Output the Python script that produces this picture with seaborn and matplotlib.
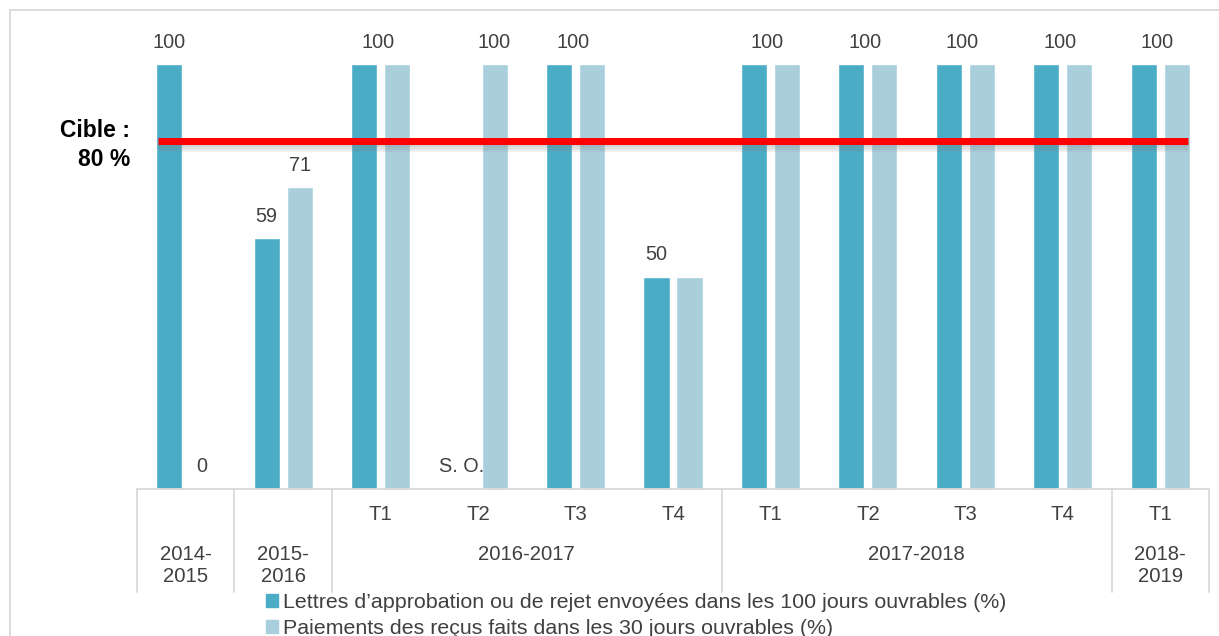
import numpy as np
import pandas as pd
import seaborn as sns
import matplotlib.pyplot as plt
import matplotlib.patheffects as pe
from matplotlib.patches import Patch
from matplotlib.lines import Line2D

# data
categories = ["2014-2015", "2015-2016", "16-T1", "16-T2", "16-T3", "16-T4",
              "17-T1", "17-T2", "17-T3", "17-T4", "18-T1"]
quarters = ["", "", "T1", "T2", "T3", "T4", "T1", "T2", "T3", "T4", "T1"]
years = ["2014-\n2015", "2015-\n2016", "2016-2017", "2017-2018", "2018-\n2019"]
year_spans = [(0, 0), (1, 1), (2, 5), (6, 9), (10, 10)]

lettres = [100, 59, 100, np.nan, 100, 50, 100, 100, 100, 100, 100]
paiements = [0, 71, 100, 100, 100, 50, 100, 100, 100, 100, 100]

serie_a = "Lettres d\u2019approbation ou de rejet envoyées dans les 100 jours ouvrables (%)"
serie_b = "Paiements des reçus faits dans les 30 jours ouvrables (%)"

# (text, category, which bar: L = first series, R = second, C = shared)
value_labels = [("100", 0, "L"), ("0", 0, "R"), ("59", 1, "L"), ("71", 1, "R"),
                ("100", 2, "C"), ("S. O.", 3, "L"), ("100", 3, "R"), ("100", 4, "C"),
                ("50", 5, "L"), ("100", 6, "C"), ("100", 7, "C"), ("100", 8, "C"),
                ("100", 9, "C"), ("100", 10, "C")]

cible_label = "Cible :\n80 %"
cible_drawn = 81.8  # where the red line sits in the picture

dark = "#4BACC6"
light = "#A9CFDD"
txt = "#404040"
grid = "#D9D9D9"

df = pd.DataFrame({
    "cat": categories * 2,
    "val": lettres + paiements,
    "serie": [serie_a] * len(categories) + [serie_b] * len(categories),
})

sns.set_style("white")
plt.rcParams["font.family"] = ["Liberation Sans", "DejaVu Sans"]

W, H = 1219, 636
fig = plt.figure(figsize=(W / 100, H / 100), dpi=100)
ax_h = 467.5
ax = fig.add_axes([137 / W, (H - 489) / H, 1072 / W, ax_h / H])

sns.barplot(data=df, x="cat", y="val", hue="serie", order=categories,
            palette=[dark, light], width=0.677, gap=0.21, ax=ax, legend=False,
            saturation=1)

ax.set_xlim(-0.5, 10.5)
ax.set_ylim(0, 110)
ax.set_xlabel("")
ax.set_ylabel("")
ax.set_xticks([])
ax.set_yticks([])
for s in ["top", "left", "right"]:
    ax.spines[s].set_visible(False)
ax.spines["bottom"].set_color(grid)
ax.spines["bottom"].set_linewidth(1.3)

px = 72 / 100  # pixels to points

# value labels
series_vals = {"L": lettres, "R": paiements}
offs = {"L": -0.169, "R": 0.169, "C": -0.03}
for text, i, side in value_labels:
    if side == "C":
        v = lettres[i]
    else:
        v = series_vals[side][i]
    if np.isnan(v):
        v = 0
    ax.annotate(text, xy=(i + offs[side], v), xytext=(0, 22 * px),
                textcoords="offset points", ha="center", va="center",
                fontsize=14.3, color=txt, annotation_clip=False)

# target line with a soft shadow under it
shadow = [pe.SimpleLineShadow(offset=(0, -k), shadow_color="gray", alpha=0.12)
          for k in (1.5, 3, 4.5)]
ax.plot([-0.285, 10.285], [cible_drawn, cible_drawn], color="#FF0000", lw=7 * px,
        solid_capstyle="butt", clip_on=False, zorder=5,
        path_effects=shadow + [pe.Normal()])
ax.annotate(cible_label, xy=(-0.5, cible_drawn), xytext=(-7 * px, -4 * px),
            textcoords="offset points", ha="right", va="center", fontsize=16.5,
            fontweight="bold", color="black", linespacing=1.32, annotation_clip=False)

# category axis: quarter row, year row, separators
for i, q in enumerate(quarters):
    if q:
        ax.annotate(q, xy=(i, 0), xycoords=("data", "axes fraction"),
                    xytext=(0, -26 * px), textcoords="offset points",
                    ha="center", va="center", fontsize=14.6, color=txt,
                    annotation_clip=False)
for lab, (a, b) in zip(years, year_spans):
    for k, line in enumerate(lab.split("\n")):
        ax.annotate(line, xy=((a + b) / 2, 0), xycoords=("data", "axes fraction"),
                    xytext=(0, -(66 + 22 * k) * px), textcoords="offset points",
                    ha="center", va="center", fontsize=14.6, color=txt,
                    annotation_clip=False)
seps = [-0.5] + [b + 0.5 for a, b in year_spans]
for s in seps:
    ax.plot([s, s], [0, -103 / ax_h], color=grid, lw=1.3,
            transform=ax.get_xaxis_transform(), clip_on=False)

# legend
handles = [Patch(color=dark), Patch(color=light)]
fig.legend(handles, [serie_a, serie_b], loc="upper left",
           bbox_to_anchor=(266 / W, 1 - 593 / H), frameon=False,
           handlelength=0.55, handleheight=0.55, handletextpad=0.25,
           labelspacing=0.33, fontsize=15.4, labelcolor=txt,
           borderpad=0, borderaxespad=0)

# outer frame of the chart area
fig.add_artist(Line2D([10 / W, 10 / W], [0, 1 - 10 / H], color=grid, lw=1.3))
fig.add_artist(Line2D([10 / W, 1], [1 - 10 / H, 1 - 10 / H], color=grid, lw=1.3))

fig.savefig("out.png", dpi=100)
